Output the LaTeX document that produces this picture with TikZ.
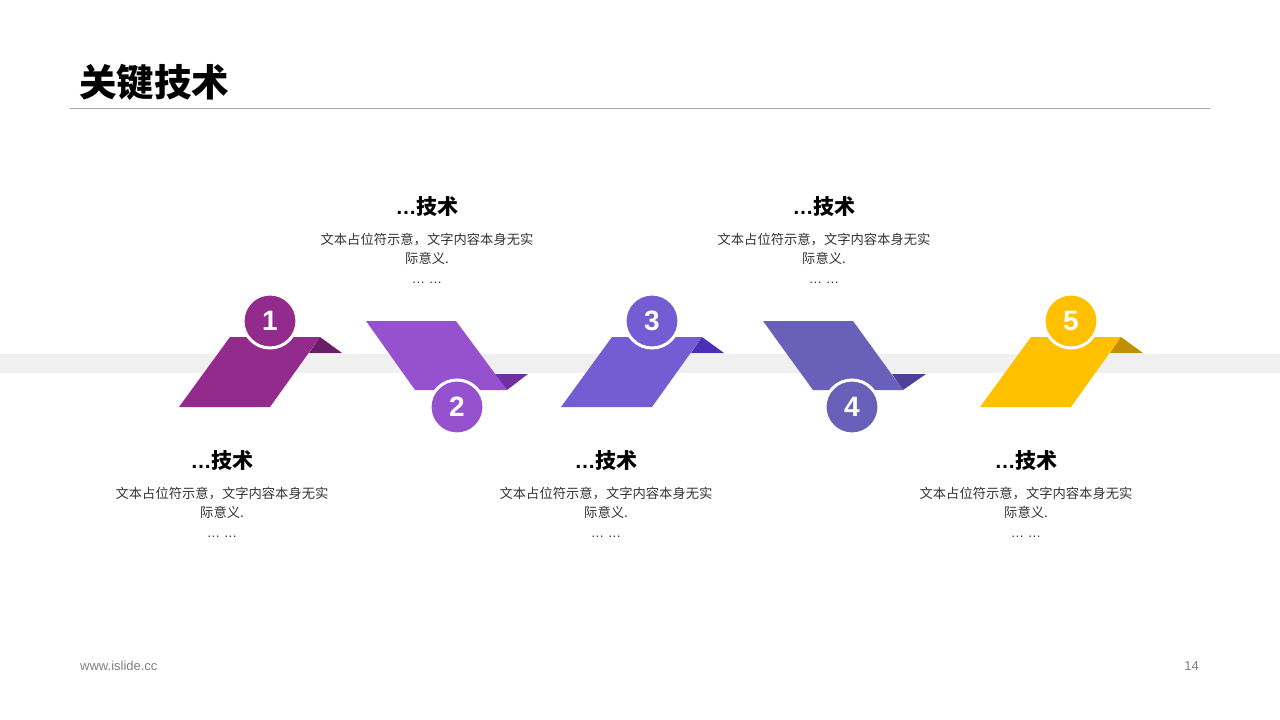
\documentclass[tikz,border=0pt]{standalone}
\usepackage{fontspec}
\setmainfont{Noto Sans CJK SC}
\newfontfamily\latinfont{Liberation Sans}
\usetikzlibrary{positioning}

\definecolor{plumA}{HTML}{922B8C}
\definecolor{plumB}{HTML}{6B1E68}
\definecolor{violetA}{HTML}{9652CE}
\definecolor{violetB}{HTML}{7030A0}
\definecolor{indigoA}{HTML}{745CD3}
\definecolor{indigoB}{HTML}{4B30B5}
\definecolor{slateA}{HTML}{6960B9}
\definecolor{slateB}{HTML}{4C4196}
\definecolor{goldA}{HTML}{FFC000}
\definecolor{goldB}{HTML}{C09000}

\begin{document}
\begin{tikzpicture}[x=1pt,y=-1pt,
  numdot/.style={circle,draw=white,line width=3pt,minimum size=54pt,inner sep=0pt,
    text=white,font=\latinfont\bfseries\fontsize{28}{28}\selectfont},
  headline/.style={font=\bfseries\fontsize{21}{24}\selectfont},
  bodytext/.style={align=center,text=black!80,font=\fontsize{13.3}{19.5}\selectfont},
  node distance=9pt]
  \useasboundingbox (0,0) rectangle (1280,720);
  \fill[white] (0,0) rectangle (1280,720);
  % page title
  \node[anchor=west,font=\bfseries\fontsize{37.5}{40}\selectfont,inner sep=0pt] (title) at (79,82) {关键技术};
  \draw[gray!70,line width=0.8pt] (70,108) -- (1210,108);
  % band
  \fill[black!6] (0,354) rectangle (1280,373);
  % folded steps
  \fill[plumA] (230,337) -- (320,337) -- (270,407) -- (179,407) -- cycle;
  \fill[plumB] (320,337) -- (342,353) -- (309,353) -- cycle;
  \fill[violetA] (366,321) -- (456,321) -- (507,390) -- (415,390) -- cycle;
  \fill[violetB] (495,374) -- (528,374) -- (507,390) -- cycle;
  \fill[indigoA] (612,337) -- (702,337) -- (652,407) -- (561,407) -- cycle;
  \fill[indigoB] (702,337) -- (724,353) -- (691,353) -- cycle;
  \fill[slateA] (763,321) -- (853,321) -- (903,390) -- (813,390) -- cycle;
  \fill[slateB] (892,374) -- (926,374) -- (903,390) -- cycle;
  \fill[goldA] (1031,337) -- (1121,337) -- (1071,407) -- (980,407) -- cycle;
  \fill[goldB] (1121,337) -- (1143,353) -- (1110,353) -- cycle;
  % numbers
  \node[numdot,fill=plumA] (n1) at (270,321) {1};
  \node[numdot,fill=violetA] (n2) at (457,407) {2};
  \node[numdot,fill=indigoA] (n3) at (652,321) {3};
  \node[numdot,fill=slateA] (n4) at (852,407) {4};
  \node[numdot,fill=goldA] (n5) at (1071,321) {5};
  % captions
  \node[headline] (h1) at (222,461) {{\latinfont …}技术};
  \node[bodytext,below=of h1] (b1) {文本占位符示意，文字内容本身无实\\际意义.\\{\latinfont … …}};
  \node[headline] (h2) at (427,207) {{\latinfont …}技术};
  \node[bodytext,below=of h2] (b2) {文本占位符示意，文字内容本身无实\\际意义.\\{\latinfont … …}};
  \node[headline] (h3) at (606,461) {{\latinfont …}技术};
  \node[bodytext,below=of h3] (b3) {文本占位符示意，文字内容本身无实\\际意义.\\{\latinfont … …}};
  \node[headline] (h4) at (824,207) {{\latinfont …}技术};
  \node[bodytext,below=of h4] (b4) {文本占位符示意，文字内容本身无实\\际意义.\\{\latinfont … …}};
  \node[headline] (h5) at (1026,461) {{\latinfont …}技术};
  \node[bodytext,below=of h5] (b5) {文本占位符示意，文字内容本身无实\\际意义.\\{\latinfont … …}};
  % footer
  \node[anchor=west,inner sep=0pt,text=black!50,font=\latinfont\fontsize{13}{15}\selectfont] (site) at (80,666) {www.islide.cc};
  \node[anchor=east,inner sep=0pt,text=black!50,font=\latinfont\fontsize{13}{15}\selectfont] (page) at (1199,666) {14};
\end{tikzpicture}
\end{document}
